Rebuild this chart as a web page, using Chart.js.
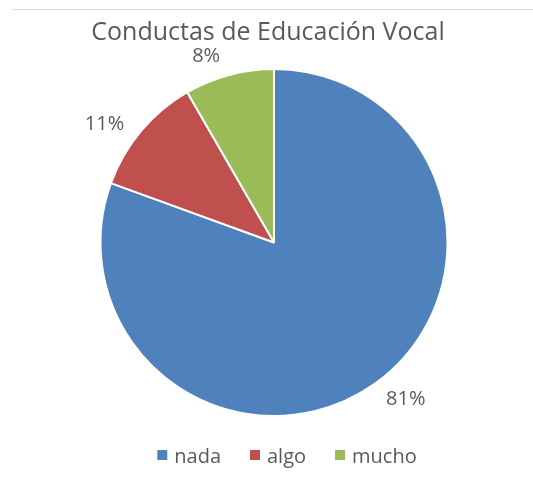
<!DOCTYPE html>
<html>
<head>
<meta charset="utf-8">
<script src="https://cdn.jsdelivr.net/npm/chart.js@4"></script>
<style>
    html, body { margin: 0; padding: 0; background: #fff; }
    #wrap { position: relative; width: 533px; height: 484px; }
    #topLine { position: absolute; left: 12px; right: 0; top: 9px; height: 1px; background: #dcdcdc; }
</style>
</head>
<body>
<div id="wrap">
    <div id="topLine"></div>
    <canvas id="pieChart" width="533" height="484"></canvas>
</div>
<script>
var chartTitle = 'Conductas de Educación Vocal'
var categories = ['nada', 'algo', 'mucho']
var counts = [29, 4, 3]
var sliceColors = ['#4F81BD', '#C0504D', '#9BBB59']
var textColor = '#595959'
var fontName = "'Open Sans'"

function percentOf(i) {
    var total = counts.reduce(function (a, b) { return a + b }, 0)
    return Math.round(counts[i] / total * 100) + '%'
}

// percent labels just outside each slice, Excel style
var outsideLabels = {
    id: 'outsideLabels',
    afterDatasetsDraw: function (chart) {
        var ctx = chart.ctx
        var meta = chart.getDatasetMeta(0)
        ctx.save()
        ctx.font = '20px ' + fontName
        ctx.fillStyle = textColor
        ctx.textAlign = 'center'
        ctx.textBaseline = 'middle'
        meta.data.forEach(function (arc, i) {
            var txt = percentOf(i)
            var w = ctx.measureText(txt).width
            var h = 15
            var mid = (arc.startAngle + arc.endAngle) / 2 - 5 * Math.PI / 180
            var c = Math.cos(mid), s = Math.sin(mid)
            var r = arc.outerRadius + 13 + Math.abs(c) * w / 2 + Math.abs(s) * h / 2
            ctx.fillText(txt, arc.x + c * r, arc.y + s * r)
        })
        ctx.restore()
    }
}

// title and legend drawn by hand so they can sit off the pie's centre line
var titleAndLegend = {
    id: 'titleAndLegend',
    afterDraw: function (chart) {
        var ctx = chart.ctx
        ctx.save()
        ctx.fillStyle = textColor
        ctx.textBaseline = 'alphabetic'
        ctx.textAlign = 'center'
        ctx.font = '25px ' + fontName
        ctx.fillText(chartTitle, 268, 40)

        ctx.font = '20px ' + fontName
        ctx.textAlign = 'left'
        var labels = chart.data.labels
        var colors = chart.data.datasets[0].backgroundColor
        var box = 10, gap = 7, spacing = 29
        var widths = labels.map(function (l) { return box + gap + ctx.measureText(l).width })
        var total = widths.reduce(function (a, b) { return a + b }, 0) + spacing * (labels.length - 1)
        var x = 287 - total / 2
        labels.forEach(function (l, i) {
            ctx.fillStyle = colors[i]
            ctx.fillRect(x, 450, box, box)
            ctx.fillStyle = textColor
            ctx.fillText(l, x + box + gap, 463)
            x += widths[i] + spacing
        })
        ctx.restore()
    }
}

var chartCtx = new Chart(document.getElementById('pieChart'), {
    type: 'pie',
    data: {
        labels: categories,
        datasets: [{
            data: counts,
            backgroundColor: sliceColors,
            borderColor: '#ffffff',
            borderWidth: 2
        }]
    },
    options: {
        responsive: false,
        animation: false,
        layout: {
            padding: { left: 15, right: 0, top: 68, bottom: 67 }
        },
        plugins: {
            title: { display: false },
            legend: { display: false },
            tooltip: { enabled: false }
        }
    },
    plugins: [outsideLabels, titleAndLegend]
})
</script>
</body>
</html>
